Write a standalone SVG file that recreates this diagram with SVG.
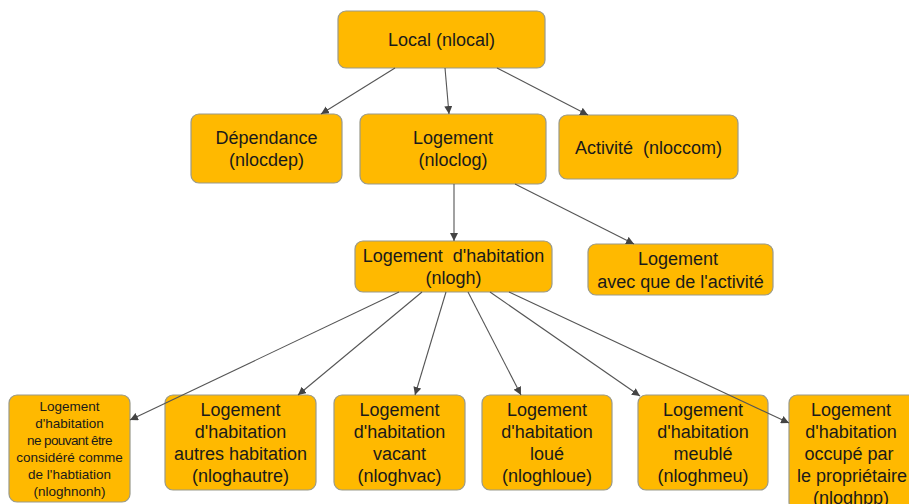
<svg xmlns="http://www.w3.org/2000/svg" width="909" height="504" viewBox="0 0 909 504">
<defs>
<style>
.n rect{fill:#FFB900;stroke:#9a9a8a;stroke-width:1.2}
.n text{font-family:"Liberation Sans",Arial,sans-serif;font-size:18px;fill:#1a1a1a;text-anchor:middle}
.n text.s{font-size:13.5px}
.c line{stroke:#555;stroke-width:1.1;marker-end:url(#ah)}
</style>
<marker id="ah" viewBox="0 0 10 10" refX="10" refY="5" markerWidth="8" markerHeight="8" markerUnits="userSpaceOnUse" orient="auto">
<path d="M0,0 L10,5 L0,10 z" fill="#444"/>
</marker>
</defs>
<rect width="909" height="504" fill="#fff"/>
<g id="local" class="n"><rect x="338" y="11" width="207" height="57" rx="8"/><text x="441.5" y="46">Local (nlocal)</text></g>
<g id="nlocdep" class="n"><rect x="191" y="114" width="151" height="69" rx="8"/><text x="266.5" y="144">Dépendance</text><text x="266.5" y="166">(nlocdep)</text></g>
<g id="nloclog" class="n"><rect x="360" y="114" width="186" height="70" rx="8"/><text x="453" y="144">Logement</text><text x="453" y="166">(nloclog)</text></g>
<g id="nloccom" class="n"><rect x="559" y="115" width="179" height="64" rx="8"/><text x="648.5" y="154" xml:space="preserve">Activité  (nloccom)</text></g>
<g id="nlogh" class="n"><rect x="355" y="241" width="197" height="51" rx="8"/><text x="453.5" y="262" xml:space="preserve">Logement  d'habitation</text><text x="453.5" y="284">(nlogh)</text></g>
<g id="nlogact" class="n"><rect x="588" y="244" width="185" height="51" rx="8"/><text x="678" y="265">Logement</text><text x="680.5" y="288">avec que de l'activité</text></g>
<g id="nloghnonh" class="n"><rect x="9" y="395" width="121" height="107" rx="8"/>
<text class="s" x="69.5" y="411">Logement</text><text class="s" x="69.5" y="428">d'habitation</text><text class="s" x="69.5" y="445" letter-spacing="-0.6">ne pouvant être</text><text class="s" x="69.5" y="462">considéré comme</text><text class="s" x="69.5" y="479">de l'habtiation</text><text class="s" x="69.5" y="496">(nloghnonh)</text></g>
<g id="nloghautre" class="n"><rect x="165" y="395" width="151" height="95" rx="8"/><text x="240.5" y="416">Logement</text><text x="240.5" y="438">d'habitation</text><text x="240.5" y="460">autres habitation</text><text x="240.5" y="482">(nloghautre)</text></g>
<g id="nloghvac" class="n"><rect x="334" y="395" width="131" height="95" rx="8"/><text x="399.5" y="416">Logement</text><text x="399.5" y="438">d'habitation</text><text x="399.5" y="460">vacant</text><text x="399.5" y="482">(nloghvac)</text></g>
<g id="nloghloue" class="n"><rect x="482" y="395" width="130" height="95" rx="8"/><text x="547" y="416">Logement</text><text x="547" y="438">d'habitation</text><text x="547" y="460">loué</text><text x="547" y="482">(nloghloue)</text></g>
<g id="nloghmeu" class="n"><rect x="638" y="395" width="130" height="95" rx="8"/><text x="703" y="416">Logement</text><text x="703" y="438">d'habitation</text><text x="703" y="460">meublé</text><text x="703" y="482">(nloghmeu)</text></g>
<g id="nloghpp" class="n"><rect x="789" y="395" width="130" height="115" rx="8"/><text x="851" y="416">Logement</text><text x="851" y="438">d'habitation</text><text x="849" y="460">occupé par</text><text x="852" y="482">le propriétaire</text><text x="851" y="504">(nloghpp)</text></g>
<g id="connectors" class="c">
<line x1="395" y1="68" x2="321" y2="114"/>
<line x1="445" y1="68" x2="449" y2="114"/>
<line x1="497" y1="68" x2="588" y2="115"/>
<line x1="454" y1="184" x2="454" y2="241"/>
<line x1="515" y1="184" x2="634" y2="244"/>
<line x1="399" y1="292" x2="130" y2="420"/>
<line x1="422" y1="292" x2="298" y2="395"/>
<line x1="446" y1="292" x2="415" y2="395"/>
<line x1="468" y1="292" x2="521" y2="395"/>
<line x1="490" y1="292" x2="640" y2="396"/>
<line x1="509" y1="292" x2="789" y2="423"/>
</g>
</svg>
